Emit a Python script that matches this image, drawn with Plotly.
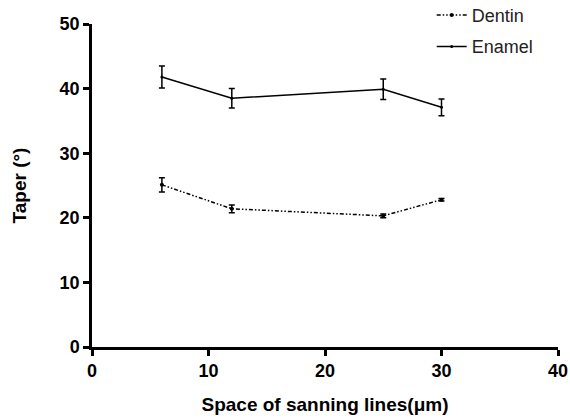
import plotly.graph_objects as go

spacing = [6, 12, 25, 30]
dentin = [25.1, 21.4, 20.3, 22.8]
dentin_err = [1.1, 0.6, 0.3, 0.2]
enamel = [41.8, 38.5, 39.9, 37.1]
enamel_err = [1.7, 1.5, 1.6, 1.3]

fig = go.Figure()
fig.add_trace(go.Scatter(
    x=spacing, y=dentin, name="Dentin", mode="lines+markers", legendgroup="d",
    line=dict(color="black", width=1.5, dash="4px,2px,1.5px,2px,1.5px,2px"),
    marker=dict(size=4, color="black"),
    error_y=dict(type="data", array=dentin_err, color="black", thickness=1.5, width=3),
))
fig.add_trace(go.Scatter(
    x=spacing, y=enamel, name="Enamel", mode="lines+markers", legendgroup="e",
    line=dict(color="black", width=1.5),
    marker=dict(size=3, color="black"),
    error_y=dict(type="data", array=enamel_err, color="black", thickness=1.5, width=3),
))

tick_font = dict(family="Liberation Sans", size=18, color="black", weight="bold")
title_font = dict(family="Liberation Sans", size=19, color="black", weight="bold")
fig.update_layout(
    width=570, height=418,
    margin=dict(l=92, r=12, t=24, b=71, autoexpand=False),
    paper_bgcolor="white", plot_bgcolor="white",
    font=dict(family="Liberation Sans", color="black"),
    showlegend=True,
    legend=dict(x=0.729, y=1.084, xanchor="left", yanchor="top",
                font=dict(size=18, family="Liberation Sans", color="#222"),
                bgcolor="rgba(0,0,0,0)", tracegroupgap=5, itemwidth=30),
    xaxis=dict(range=[0, 40], tickvals=[0, 10, 20, 30, 40], showgrid=False, zeroline=False,
               showline=True, linecolor="black", linewidth=2.5, ticks="outside",
               ticklen=6, tickwidth=2.5, tickcolor="black", tickfont=tick_font,
               automargin=False,
               title=dict(text="Space of sanning lines(μm)", font=title_font, standoff=18)),
    yaxis=dict(range=[0, 50], tickvals=[0, 10, 20, 30, 40, 50], showgrid=False, zeroline=False,
               showline=True, linecolor="black", linewidth=2.5, ticks="outside",
               ticklen=6, tickwidth=2.5, tickcolor="black", tickfont=tick_font,
               automargin=False,
               title=dict(text="Taper (°)", font=title_font, standoff=28)),
)
# remove the default page margin so the 570x418 figure fills the window exactly
fig.write_html("out.html", config={"displayModeBar": False},
               post_script="document.body.style.margin='0px';document.body.style.overflow='hidden';")
